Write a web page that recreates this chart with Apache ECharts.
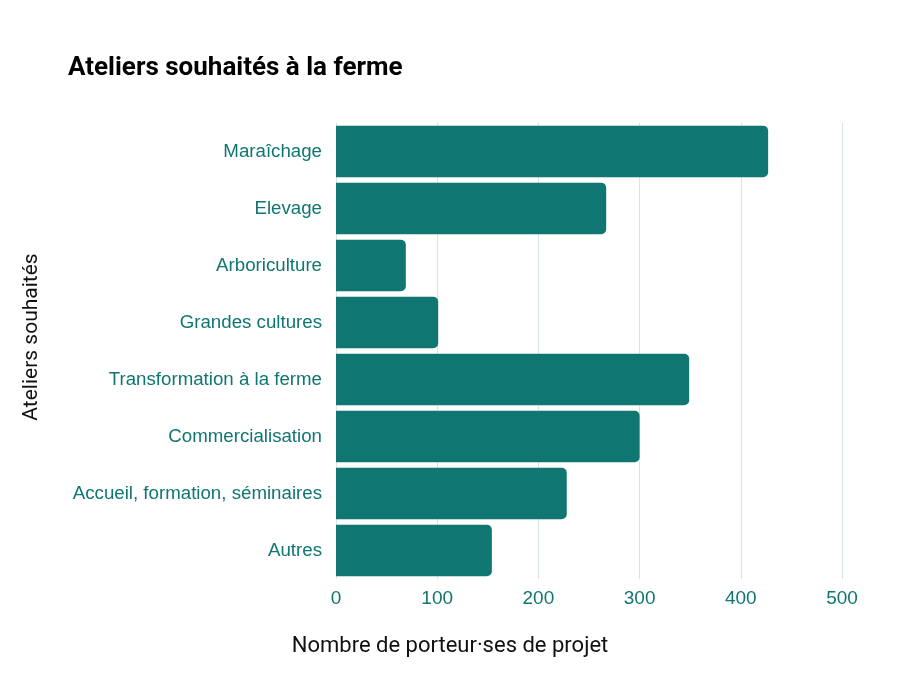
<!DOCTYPE html>
<html>
<head>
<meta charset="utf-8">
<style>
  html, body { margin: 0; padding: 0; background: #fff; }
  #chart { width: 900px; height: 675px; }
</style>
<script src="https://cdn.jsdelivr.net/npm/echarts@6.0.0/dist/echarts.min.js"></script>
</head>
<body>
<div id="chart"></div>
<script>
// ── données ──
var categories = [
    'Maraîchage',
    'Elevage',
    'Arboriculture',
    'Grandes cultures',
    'Transformation à la ferme',
    'Commercialisation',
    'Accueil, formation, séminaires',
    'Autres'
];
var counts = [427, 267, 69, 101, 349, 300, 228, 154];
var xTicks = [0, 100, 200, 300, 400, 500];

var TEAL = '#0f7672';

var chart = echarts.init(document.getElementById('chart'));
chart.setOption({
    animation: false,
    backgroundColor: '#fff',
    title: {
        text: 'Ateliers souhaités à la ferme',
        left: 63,
        top: 50,
        textStyle: { fontFamily: 'Roboto', fontWeight: 'bold', fontSize: 26, color: '#000' },
    },
    grid: { left: 336, right: 58, top: 123, bottom: 96 },
    xAxis: {
        type: 'value',
        min: xTicks[0],
        max: xTicks[xTicks.length - 1],
        interval: xTicks[1] - xTicks[0],
        axisLine: { show: false },
        axisTick: { show: false },
        axisLabel: { color: TEAL, fontFamily: 'Liberation Sans', fontSize: 19, margin: 10 },
        splitLine: { lineStyle: { color: '#d6e4e4', width: 1 } },
    },
    yAxis: {
        type: 'category',
        data: categories,
        inverse: true,
        axisLine: { show: false },
        axisTick: { show: false },
        axisLabel: {
            color: TEAL, fontFamily: 'Liberation Sans', fontSize: 18.7, margin: 14,
            padding: [4, 0, 0, 0],
        },
    },
    series: [{
        type: 'bar',
        data: counts,
        barCategoryGap: '10%',
        itemStyle: { color: TEAL, borderRadius: [0, 5, 5, 0] },
    }],
    graphic: [
        {
            type: 'text',
            x: 450, y: 646,
            style: {
                text: 'Nombre de porteur·ses de projet',
                fontFamily: 'Roboto', fontSize: 22, fill: '#111',
                textAlign: 'center', textVerticalAlign: 'middle',
            },
        },
        {
            type: 'text',
            x: 32, y: 337,
            rotation: Math.PI / 2,
            style: {
                text: 'Ateliers souhaités',
                fontFamily: 'Roboto', fontSize: 21, fill: '#111',
                textAlign: 'center', textVerticalAlign: 'middle',
            },
        },
    ],
});

window.addEventListener('resize', () => chart.resize());
</script>
</body>
</html>
